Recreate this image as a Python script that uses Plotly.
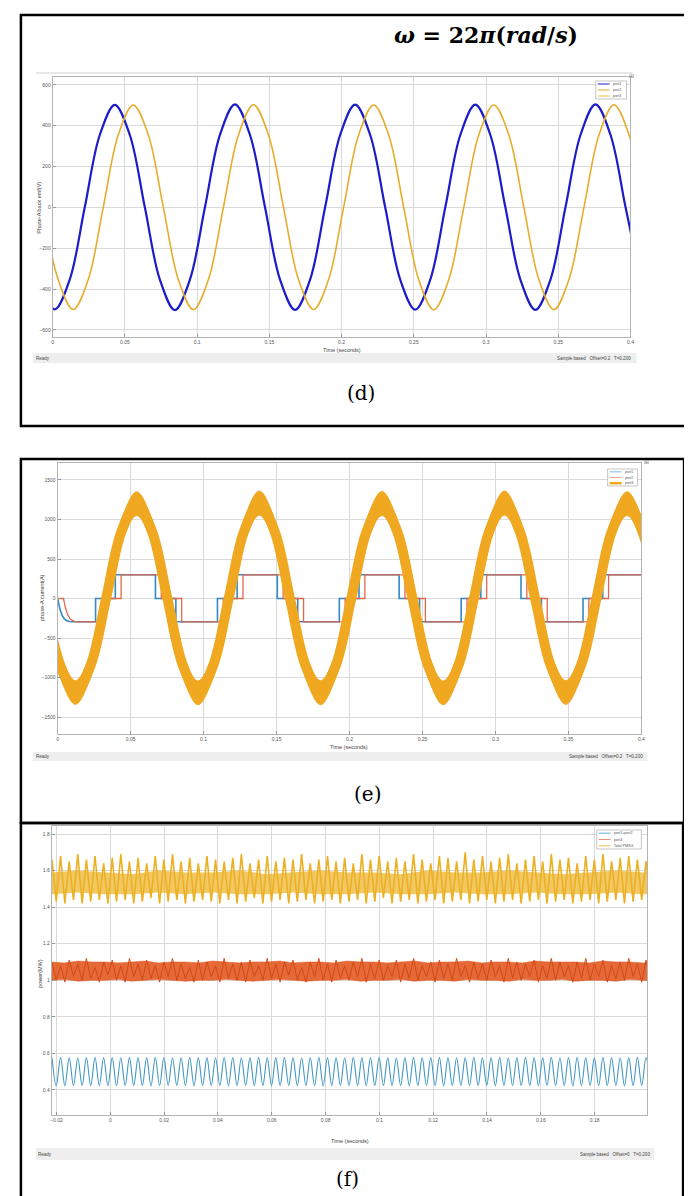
import numpy as np
import plotly.graph_objects as go

W, H = 692, 1196


def px(x):
    return x / W


def py(y):
    return 1 - y / H


# ======================= (d) Phase-A back EMF (V) =======================
d_xticks = [0, 0.05, 0.1, 0.15, 0.2, 0.25, 0.3, 0.35, 0.4]
d_yticks = [-600, -400, -200, 0, 200, 400, 600]
d_dt = 0.0104            # spacing of the samples (s)
d_port1_t0 = -0.0194
d_port2_t0 = -0.0066
d_port1 = [0, -354, -500, -354, 0, 354, 502, 354,
           0, -354, -503, -354, 0, 355, 504, 354,
           0, -354, -502, -354, 0, 354, 503, 354,
           0, -354, -501, -354, 0, 354, 503, 354,
           0, -354, -502, -354, 0, 354, 504, 354,
           0, -354]
d_port2 = [0, -354, -500, -354, 0, 354, 501, 354,
           0, -354, -501, -354, 0, 354, 502, 354,
           0, -354, -500, -354, 0, 354, 501, 354,
           0, -354, -502, -354, 0, 354, 501, 354,
           0, -354, -501, -354, 0, 354, 502, 354,
           0]

# ======================= (e) Phase-A current (A) =======================
e_yticks = [-1500, -1000, -500, 0, 500, 1000, 1500]
e_port1_start_t = [0, 0.0015, 0.003, 0.0045, 0.006, 0.008, 0.011]
e_port1_start_v = [0, -130, -210, -255, -278, -292, -295]
e_port1_switch_t = [0.026, 0.0395, 0.067, 0.081, 0.1095, 0.123, 0.1505, 0.1645,
                    0.193, 0.2065, 0.234, 0.248, 0.2765, 0.290, 0.3175, 0.3315,
                    0.360, 0.3735]
e_port2_start_t = [0, 0.004, 0.0055, 0.007, 0.0085, 0.010, 0.012, 0.015]
e_port2_start_v = [0, 0, -130, -210, -255, -278, -292, -295]
e_port2_switch_t = [0.030, 0.0435, 0.071, 0.085, 0.1135, 0.127, 0.1545, 0.1685,
                    0.197, 0.2105, 0.238, 0.252, 0.2805, 0.294, 0.3215, 0.3355,
                    0.364, 0.3775]
e_step_levels = [0, 300, 0, -295, 0, 300, 0, -295, 0, 300, 0, -295,
                 0, 300, 0, -295, 0, 300]
e_port3_t0 = -0.0088
e_port3_dt = 0.0105
e_port3_mid = [0, -841, -1190, -841, 0, 848, 1200, 848,
               0, -841, -1195, -841, 0, 848, 1205, 848,
               0, -841, -1190, -841, 0, 848, 1200, 848,
               0, -841, -1195, -841, 0, 848, 1205, 848,
               0, -841, -1190, -841, 0, 848, 1200, 848,
               0]
e_port3_hi = [150, -691, -1040, -691, 150, 998, 1350, 998,
              150, -691, -1045, -691, 150, 998, 1360, 998,
              150, -691, -1040, -691, 150, 998, 1355, 998,
              150, -691, -1045, -691, 150, 998, 1360, 998,
              150, -691, -1040, -691, 150, 998, 1350, 998,
              150]
e_port3_lo = [-150, -991, -1340, -991, -150, 698, 1050, 698,
              -150, -991, -1345, -991, -150, 698, 1055, 698,
              -150, -991, -1345, -991, -150, 698, 1050, 698,
              -150, -991, -1345, -991, -150, 698, 1055, 698,
              -150, -991, -1340, -991, -150, 698, 1050, 698,
              -150]

# ======================= (f) power (MW) =======================
f_osc_t0 = -0.0217
f_osc_dt = 0.0016
f_port12 = [0.577, 0.423, 0.578, 0.422, 0.577, 0.423, 0.576, 0.424, 0.577, 0.423,
            0.578, 0.423, 0.577, 0.422, 0.577, 0.423, 0.576, 0.424, 0.578, 0.423,
            0.577, 0.423, 0.577, 0.422, 0.578, 0.423, 0.577, 0.424, 0.576, 0.423,
            0.577, 0.423, 0.578, 0.422, 0.577, 0.424, 0.577, 0.423, 0.576, 0.423,
            0.578, 0.422, 0.577, 0.423, 0.576, 0.424, 0.577, 0.423, 0.578, 0.423,
            0.577, 0.422, 0.577, 0.423, 0.578, 0.424, 0.577, 0.423, 0.576, 0.423,
            0.577, 0.423, 0.578, 0.422, 0.577, 0.423, 0.577, 0.424, 0.576, 0.423,
            0.578, 0.423, 0.577, 0.422, 0.577, 0.423, 0.578, 0.424, 0.577, 0.423,
            0.576, 0.423, 0.577, 0.422, 0.578, 0.423, 0.577, 0.424, 0.577, 0.423,
            0.578, 0.422, 0.577, 0.423, 0.576, 0.424, 0.577, 0.423, 0.578, 0.423,
            0.577, 0.423, 0.577, 0.422, 0.578, 0.423, 0.576, 0.424, 0.577, 0.423,
            0.578, 0.423, 0.577, 0.422, 0.577, 0.424, 0.578, 0.423, 0.576, 0.423,
            0.577, 0.422, 0.578, 0.423, 0.577, 0.424, 0.577, 0.423, 0.578, 0.423,
            0.577, 0.423, 0.576, 0.422, 0.577, 0.423, 0.578, 0.424, 0.577, 0.423]
f_total = [1.66, 1.43, 1.68, 1.42, 1.65, 1.44, 1.69, 1.42, 1.66, 1.43,
           1.68, 1.44, 1.64, 1.42, 1.67, 1.43, 1.69, 1.44, 1.65, 1.42,
           1.67, 1.43, 1.64, 1.45, 1.68, 1.42, 1.66, 1.43, 1.69, 1.44,
           1.65, 1.42, 1.67, 1.43, 1.64, 1.44, 1.68, 1.43, 1.66, 1.42,
           1.65, 1.44, 1.67, 1.42, 1.69, 1.43, 1.64, 1.45, 1.66, 1.42,
           1.68, 1.43, 1.65, 1.44, 1.67, 1.42, 1.66, 1.43, 1.69, 1.44,
           1.64, 1.42, 1.66, 1.43, 1.68, 1.44, 1.65, 1.42, 1.67, 1.43,
           1.64, 1.44, 1.69, 1.42, 1.66, 1.43, 1.68, 1.45, 1.65, 1.42,
           1.67, 1.43, 1.65, 1.44, 1.69, 1.42, 1.66, 1.43, 1.64, 1.44,
           1.68, 1.42, 1.67, 1.43, 1.65, 1.44, 1.70, 1.42, 1.66, 1.43,
           1.68, 1.44, 1.65, 1.42, 1.67, 1.43, 1.69, 1.44, 1.64, 1.42,
           1.66, 1.43, 1.68, 1.44, 1.65, 1.42, 1.69, 1.43, 1.66, 1.44,
           1.67, 1.42, 1.64, 1.43, 1.68, 1.44, 1.66, 1.42, 1.69, 1.43,
           1.65, 1.44, 1.67, 1.42, 1.68, 1.43, 1.66, 1.44, 1.65, 1.43]
f_port3 = [1.10, 1.00, 1.08, 0.99, 1.11, 1.02, 1.09, 1.00, 1.12, 1.01,
           1.07, 0.99, 1.10, 1.03, 1.11, 1.00, 1.08, 0.99, 1.12, 1.02,
           1.09, 1.00, 1.11, 1.01, 1.08, 0.99, 1.10, 1.02, 1.12, 1.00,
           1.09, 1.01, 1.07, 0.99, 1.11, 1.00, 1.10, 1.02, 1.08, 0.99,
           1.12, 1.01, 1.09, 1.00, 1.10, 0.99, 1.11, 1.02, 1.08, 1.00,
           1.12, 1.01, 1.09, 0.99, 1.10, 1.03, 1.11, 1.00, 1.07, 0.99,
           1.10, 1.02, 1.12, 1.00, 1.09, 0.99, 1.11, 1.01, 1.08, 1.00,
           1.10, 1.02, 1.12, 0.99, 1.09, 1.01, 1.11, 1.00, 1.08, 1.02,
           1.11, 0.99, 1.09, 1.01, 1.12, 1.00, 1.08, 1.02, 1.10, 0.99,
           1.11, 1.01, 1.09, 1.00, 1.12, 1.02, 1.08, 0.99, 1.10, 1.01,
           1.09, 1.00, 1.11, 1.02, 1.08, 0.99, 1.12, 1.01, 1.10, 1.00,
           1.09, 1.02, 1.11, 0.99, 1.08, 1.01, 1.12, 1.00, 1.10, 1.02,
           1.08, 0.99, 1.10, 1.01, 1.12, 1.00, 1.09, 1.02, 1.11, 0.99,
           1.08, 1.01, 1.10, 1.00, 1.12, 1.02, 1.09, 0.99, 1.11, 1.00]
f_core_t0 = -0.022
f_core_dt = 0.01
f_total_core_hi = [1.59, 1.60, 1.59, 1.58, 1.60, 1.59, 1.59, 1.60, 1.58, 1.59, 1.60, 1.59,
                   1.59, 1.58, 1.60, 1.59, 1.59, 1.60, 1.59, 1.58, 1.59, 1.60, 1.59, 1.59]
f_total_core_lo = [1.47, 1.48, 1.47, 1.47, 1.48, 1.47, 1.48, 1.47, 1.47, 1.48, 1.47, 1.47,
                   1.48, 1.47, 1.47, 1.48, 1.47, 1.47, 1.48, 1.47, 1.47, 1.48, 1.47, 1.47]
f_port3_t0 = -0.022
f_port3_dt = 0.005
f_port3_hi = [1.100, 1.095, 1.105, 1.100, 1.100, 1.095, 1.100, 1.105, 1.095, 1.100, 1.100, 1.095,
              1.105, 1.100, 1.095, 1.100, 1.100, 1.105, 1.095, 1.100, 1.100, 1.095, 1.105, 1.100,
              1.100, 1.095, 1.100, 1.105, 1.095, 1.100, 1.100, 1.105, 1.095, 1.100, 1.100, 1.095,
              1.105, 1.100, 1.100, 1.100, 1.095, 1.105, 1.100, 1.100, 1.095, 1.100, 1.105, 1.100]
f_port3_lo = [1.000, 1.005, 0.995, 1.000, 1.000, 1.005, 0.995, 1.000, 1.005, 1.000, 0.995, 1.000,
              1.000, 1.005, 1.000, 0.995, 1.000, 1.005, 1.000, 0.995, 1.000, 1.000, 1.005, 0.995,
              1.000, 1.000, 1.005, 0.995, 1.000, 1.000, 0.995, 1.005, 1.000, 1.000, 0.995, 1.005,
              1.000, 1.000, 1.005, 0.995, 1.000, 1.000, 0.995, 1.005, 1.000, 0.995, 1.000, 1.000]

# ---------------------------------------------------------------------------
C_D1, C_D2, C_D3 = "#1c1cc8", "#e6ac2e", "#e9c047"
C_E1, C_E2, C_E3 = "#3389c6", "#e0684a", "#efa820"
C_F1, C_F2, C_F3 = "#4197c2", "#e0531d", "#ecb122"


def grid(t0, dt, n):
    return t0 + dt * np.arange(n)


def steps(start_t, start_v, switch_t, levels, t_end):
    xs, ys = list(start_t), list(start_v)
    cur = start_v[-1]
    for t, lv in zip(switch_t, levels):
        xs += [t, t]
        ys += [cur, lv]
        cur = lv
    xs.append(t_end)
    ys.append(cur)
    return xs, ys


fig = go.Figure()

# (d)
fig.add_trace(go.Scatter(x=grid(d_port1_t0, d_dt, len(d_port1)), y=d_port1, mode="lines",
                         line=dict(color=C_D1, width=2.2, shape="spline", smoothing=1.0),
                         xaxis="x", yaxis="y", name="port1"))
fig.add_trace(go.Scatter(x=grid(d_port2_t0, d_dt, len(d_port2)), y=d_port2, mode="lines",
                         line=dict(color=C_D2, width=1.6, shape="spline", smoothing=1.0),
                         xaxis="x", yaxis="y", name="port2"))

# (e)
bx, by = steps(e_port1_start_t, e_port1_start_v, e_port1_switch_t, e_step_levels, 0.41)
fig.add_trace(go.Scatter(x=bx, y=by, mode="lines", line=dict(color=C_E1, width=1.6),
                         xaxis="x2", yaxis="y2", name="port1"))
rx, ry = steps(e_port2_start_t, e_port2_start_v, e_port2_switch_t, e_step_levels, 0.41)
fig.add_trace(go.Scatter(x=rx, y=ry, mode="lines", line=dict(color=C_E2, width=1.3),
                         xaxis="x2", yaxis="y2", name="port2"))
e_t = grid(e_port3_t0, e_port3_dt, len(e_port3_mid))
fig.add_trace(go.Scatter(x=e_t, y=e_port3_lo, mode="lines",
                         line=dict(color=C_E3, width=1, shape="spline", smoothing=1.0),
                         xaxis="x2", yaxis="y2", showlegend=False))
fig.add_trace(go.Scatter(x=e_t, y=e_port3_hi, mode="lines", fill="tonexty", fillcolor=C_E3,
                         line=dict(color=C_E3, width=1, shape="spline", smoothing=1.0),
                         xaxis="x2", yaxis="y2", showlegend=False))
fig.add_trace(go.Scatter(x=e_t, y=e_port3_mid, mode="lines",
                         line=dict(color=C_E3, width=10, shape="spline", smoothing=1.0),
                         xaxis="x2", yaxis="y2", name="port3"))

# (f)
fig.add_trace(go.Scatter(x=grid(f_osc_t0, f_osc_dt, len(f_port12)), y=f_port12, mode="lines",
                         line=dict(color=C_F1, width=1.1, shape="spline", smoothing=1.0),
                         xaxis="x3", yaxis="y3", name="port1+port2"))
p3t = grid(f_port3_t0, f_port3_dt, len(f_port3_hi))
fig.add_trace(go.Scatter(x=p3t, y=f_port3_lo, mode="lines", line=dict(color=C_F2, width=0.5),
                         xaxis="x3", yaxis="y3", showlegend=False))
fig.add_trace(go.Scatter(x=p3t, y=f_port3_hi, mode="lines", fill="tonexty",
                         fillcolor="rgba(226,90,34,0.9)", line=dict(color=C_F2, width=0.5),
                         xaxis="x3", yaxis="y3", showlegend=False))
fig.add_trace(go.Scatter(x=grid(f_osc_t0, f_osc_dt, len(f_port3)), y=f_port3, mode="lines",
                         line=dict(color="#d24a16", width=1.0), xaxis="x3", yaxis="y3",
                         name="port3"))
ct = grid(f_core_t0, f_core_dt, len(f_total_core_hi))
fig.add_trace(go.Scatter(x=ct, y=f_total_core_lo, mode="lines", line=dict(color=C_F3, width=0),
                         xaxis="x3", yaxis="y3", showlegend=False))
fig.add_trace(go.Scatter(x=ct, y=f_total_core_hi, mode="lines", fill="tonexty",
                         fillcolor="rgba(236,177,34,0.7)", line=dict(color=C_F3, width=0),
                         xaxis="x3", yaxis="y3", showlegend=False))
fig.add_trace(go.Scatter(x=grid(f_osc_t0, f_osc_dt, len(f_total)), y=f_total, mode="lines",
                         line=dict(color=C_F3, width=1.6), xaxis="x3", yaxis="y3",
                         name="Total PMSG"))

# ---------------------------------------------------------------------------
tickfont = dict(family="Liberation Sans", size=5, color="#555555")
axcommon = dict(showline=True, mirror=True, linecolor="#b4b4b4", linewidth=1,
                showgrid=True, gridcolor="#dadada", gridwidth=1, zeroline=False,
                ticks="inside", ticklen=3, tickcolor="#999999", tickfont=tickfont,
                fixedrange=True)

layout_axes = dict(
    xaxis=dict(domain=[px(44), px(626)], range=[0, 0.4], tickvals=d_xticks, anchor="y", **axcommon),
    yaxis=dict(domain=[py(329), py(69)], range=[-635, 638], tickvals=d_yticks, anchor="x", **axcommon),
    xaxis2=dict(domain=[px(49), px(637)], range=[0, 0.4], tickvals=d_xticks, anchor="y2", **axcommon),
    yaxis2=dict(domain=[py(726), py(455)], range=[-1715, 1715], tickvals=e_yticks, anchor="x2", **axcommon),
    xaxis3=dict(domain=[px(43), px(643)], range=[-0.0218, 0.1996], dtick=0.02, tick0=0, anchor="y3", **axcommon),
    yaxis3=dict(domain=[py(1107), py(818)], range=[0.263, 1.844], dtick=0.2, tick0=0, anchor="x3", **axcommon),
)

shapes = []
annotations = []


def rect(x0, y0, x1, y1, fill=None, lc="black", lw=0):
    shapes.append(dict(type="rect", xref="paper", yref="paper", x0=px(x0), x1=px(x1),
                       y0=py(y1), y1=py(y0), fillcolor=fill or "rgba(0,0,0,0)",
                       line=dict(color=lc, width=lw), layer="above"))


def hline(x0, x1, y, color, width):
    shapes.append(dict(type="line", xref="paper", yref="paper", x0=px(x0), x1=px(x1),
                       y0=py(y), y1=py(y), line=dict(color=color, width=width), layer="above"))


def ann(text, x, y, size=5, color="#444444", xanchor="center", family="Liberation Sans",
        angle=0):
    annotations.append(dict(text=text, x=px(x), y=py(y), xref="paper", yref="paper",
                            showarrow=False, xanchor=xanchor, yanchor="middle",
                            textangle=angle, font=dict(family=family, size=size, color=color)))


# outer frames
rect(12, 7, 686, 418, lc="black", lw=2.5)
rect(12, 451, 680, 815, lc="black", lw=2.5)
rect(12, 815, 679, 1205, lc="black", lw=2.5)

# scope decorations
hline(27, 628, 65, "#cfcfcf", 1)
rect(24, 345, 632, 355, fill="#eeeeee")
rect(24, 744, 643, 753, fill="#eeeeee")
rect(27, 1140, 650, 1152, fill="#eeeeee")

ann("Ready", 25, 350, size=4.5, xanchor="left")
ann("Sample based   Offset=0.2   T=0.200", 629, 350, size=4.5, xanchor="right")
ann("Ready", 25, 748.5, size=4.5, xanchor="left")
ann("Sample based   Offset=0.2   T=0.200", 641, 748.5, size=4.5, xanchor="right")
ann("Ready", 27, 1146, size=4.5, xanchor="left")
ann("Sample based   Offset=0   T=0.200", 648, 1146, size=4.5, xanchor="right")

ann("Time (seconds)", 335, 342, size=5.5)
ann("Time (seconds)", 342, 739, size=5.5)
ann("Time (seconds)", 343, 1133, size=5.5)
ann("Phase-A back emf(V)", 30, 200, size=5.5, angle=-90)
ann("phase-A current(A)", 33, 590, size=5.5, angle=-90)
ann("power(MW)", 31, 965, size=5.5, angle=-90)

ann("⊞", 627, 68, size=6, color="#777777")
ann("⊞", 642, 454, size=6, color="#777777")


def legend(x0, y0, x1, y1, entries):
    rect(x0, y0, x1, y1, fill="white", lc="#a0a0a0", lw=0.6)
    n = len(entries)
    h = (y1 - y0) / n
    for i, (label, color, width) in enumerate(entries):
        yy = y0 + h * (i + 0.5)
        hline(x0 + 2, x0 + 14, yy, color, width)
        ann(label, x0 + 15.5, yy, size=3.6, color="#555555", xanchor="left")


legend(591, 73, 622, 91, [("port1", C_D1, 1), ("port2", C_D2, 1), ("port3", C_D3, 1)])
legend(603, 461, 633, 478, [("port1", "#4db3d6", 0.8), ("port2", "#e89070", 0.8),
                            ("port3", C_E3, 2.5)])
legend(592, 822, 637, 841, [("port1+port2", C_F1, 0.8), ("port3", "#e37a5a", 0.8),
                            ("Total PMSG", C_F3, 0.8)])

# titles / panel labels
ann("<b><i>ω</i> = 22<i>π</i>(<i>rad</i>/<i>s</i>)</b>", 480, 27, size=22, color="black",
    family="DejaVu Serif")
ann("(d)", 355, 385, size=20, color="black", family="DejaVu Serif")
ann("(e)", 361, 786, size=20, color="black", family="DejaVu Serif")
ann("(f)", 341, 1171, size=20, color="black", family="DejaVu Serif")

fig.update_layout(
    width=W, height=H, autosize=False,
    margin=dict(l=0, r=0, t=0, b=0),
    paper_bgcolor="white", plot_bgcolor="white",
    showlegend=False,
    shapes=shapes, annotations=annotations,
    **layout_axes,
)

fig.write_html("out.html")
